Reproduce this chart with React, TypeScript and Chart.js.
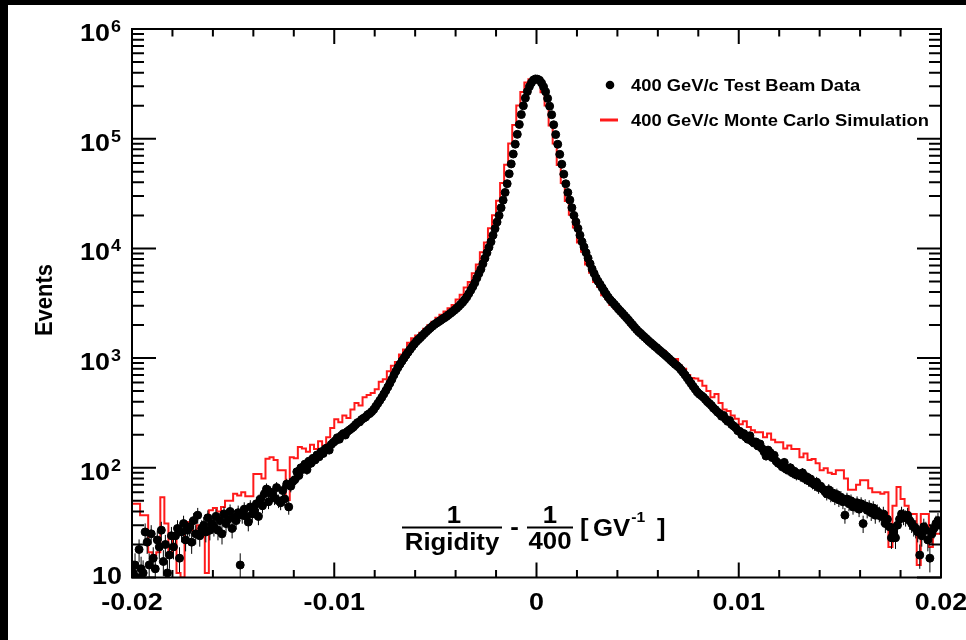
import React, { useEffect, useRef } from "react";
import { Chart, registerables } from "chart.js";

Chart.register(...registerables);

// ---------- data ----------
const X_MIN = -0.02;
const X_MAX = 0.02;
const DATA_BIN = 0.0001; // test beam histogram bin width
const MC_BIN = 0.0002; // Monte Carlo histogram bin width

const xMajorTicks = [-0.02, -0.01, 0, 0.01, 0.02];
const xTickLabels = ["-0.02", "-0.01", "0", "0.01", "0.02"];
const yDecadeExponents = [1, 2, 3, 4, 5, 6];

const legendData = "400 GeV/c Test Beam Data";
const legendMC = "400 GeV/c Monte Carlo Simulation";
const yTitle = "Events";

// 400 bins, -0.02 .. 0.02
const beamCounts = [
  11, 13, 10, 18, 12, 11, 26, 21, 13, 25, 15, 12, 22, 19, 27, 14, 20, 11, 16, 24,
  19, 24, 28, 15, 26, 31, 22, 27, 29, 21, 33, 25, 37, 24, 28, 30, 26, 35, 27, 31,
  29, 36, 27, 33, 25, 38, 31, 34, 40, 28, 35, 33, 39, 13, 37, 42, 36, 32, 44, 38,
  41, 47, 36, 52, 45, 58, 64, 49, 60, 57, 53, 66, 50, 48, 62, 52, 71, 44, 68, 75,
  78, 92, 85, 100, 97, 108, 96, 115, 110, 122, 118, 131, 126, 140, 135, 148, 152, 145, 163, 170,
  176, 188, 182, 197, 205, 199, 214, 221, 228, 236,
  247, 258, 262, 275, 283, 290, 305, 312, 325, 340,
  362, 385, 410, 438, 470, 505, 545, 590, 640, 700,
  760, 820, 880, 940, 1000, 1065, 1130, 1200, 1270, 1340,
  1410, 1470, 1530, 1600, 1670, 1740, 1810, 1880, 1950, 2020,
  2080, 2140, 2200, 2270, 2330, 2400, 2480, 2560, 2650, 2740,
  2840, 2960, 3090, 3230, 3400, 3600, 3860, 4150, 4480, 4850,
  5370, 5890, 6460, 7240, 8130, 9120, 10230, 11480, 13180, 15140,
  17380, 19950, 23440, 27540, 32360, 38900, 47860, 58880, 72440, 89130,
  109600, 134900, 166000, 199500, 234400, 269200, 298500, 323600, 342800, 350800,
  349000, 341000, 322000, 297000, 268000, 233000, 198000, 165500, 134000, 109000,
  89000, 72000, 58500, 47500, 38800, 32300, 27600, 23500, 20000, 17400,
  15200, 13200, 11500, 10300, 9150, 8150, 7250, 6480, 5900, 5380,
  5000, 4680, 4370, 4080, 3810, 3580, 3390, 3240, 3090, 2950,
  2800, 2680, 2560, 2440, 2330, 2220, 2110, 2010, 1910, 1820,
  1740, 1680, 1610, 1550, 1490, 1430, 1380, 1330, 1280, 1240,
  1190, 1150, 1110, 1070, 1030, 990, 950, 915, 880, 850,
  820, 780, 740, 700, 660, 620, 585, 550, 520, 490,
  470, 455, 440, 420, 400, 385, 370, 350, 338, 322,
  312, 295, 300, 278, 265, 270, 248, 240, 232, 218,
  215, 200, 205, 190, 182, 196, 175, 168, 172, 158,
  165, 150, 140, 128, 145, 138, 124, 130, 115, 110,
  108, 102, 112, 97, 95, 100, 90, 93, 86, 88,
  84, 90, 80, 83, 76, 79, 72, 70, 74, 66,
  68, 64, 61, 58, 63, 56, 59, 53, 57, 51,
  54, 49, 37, 52, 47, 50, 44, 46, 48, 42,
  47, 31, 45, 41, 44, 39, 43, 37, 40, 38,
  36, 38, 31, 34, 29, 23, 26, 23, 30, 34,
  38, 36, 35, 37, 33, 31, 29, 28, 26, 16,
  24, 29, 27, 22, 15, 25, 28, 31, 33, 30,
];

// 200 bins, -0.02 .. 0.02
const mcCounts = [
  8, 47, 47, 37, 37, 17, 16, 17, 54, 31,
  17, 24, 11, 10, 32, 30, 26, 30, 28, 11,
  41, 43, 40, 44, 50, 50, 58, 56, 60, 55,
  55, 88, 88, 80, 121, 125, 118, 95, 95, 51,
  125, 122, 155, 150, 140, 162, 148, 175, 160, 190,
  230, 277, 260, 300, 285, 340, 390, 370, 440, 460,
  480, 520, 610, 640, 760, 850, 920, 1080, 1200, 1380,
  1520, 1610, 1700, 1850, 1990, 2140, 2330, 2480, 2660, 2850,
  3050, 3420, 3780, 4400, 4950, 5950, 7150, 9200, 11300, 15300,
  20100, 27200, 39500, 58000, 90500, 133000, 201000, 266000, 326000, 348000,
  346000, 327000, 265000, 201000, 132000, 90500, 57500, 39500, 27000, 20300,
  15500, 11300, 9300, 7150, 6000, 4950, 4450, 3750, 3450, 3050,
  2850, 2640, 2380, 2250, 1960, 1890, 1660, 1580, 1430, 1350,
  1270, 1180, 1160, 1040, 960, 980, 850, 800, 700, 660,
  650, 620, 560, 500, 440, 470, 390, 340, 330, 300,
  280, 250, 265, 235, 220, 211, 211, 190, 205, 180,
  171, 171, 150, 160, 148, 148, 125, 135, 118, 120,
  110, 95, 99, 90, 88, 95, 95, 80, 63, 63,
  70, 77, 77, 65, 60, 60, 58, 60, 19, 45,
  67, 52, 45, 38, 38, 13, 38, 38, 19, 25,
];

// ---------- drawing helpers ----------
const FONT = '"Liberation Sans", Arial, Helvetica, sans-serif';
const SX = 1.12;

function txt(
  ctx: CanvasRenderingContext2D,
  s: string,
  x: number,
  y: number,
  size: number,
  align: CanvasTextAlign = "left",
  sx: number = SX,
  color: string = "#000"
): number {
  ctx.save();
  ctx.translate(x, y);
  ctx.scale(sx, 1);
  ctx.font = `bold ${size}px ${FONT}`;
  ctx.textAlign = align;
  ctx.textBaseline = "alphabetic";
  ctx.fillStyle = color;
  ctx.fillText(s, 0, 0);
  const w = ctx.measureText(s).width * sx;
  ctx.restore();
  return w;
}

const rootStylePlugin = {
  id: "rootStyle",
  beforeDatasetDraw(chart: any, args: any) {
    if (args.index !== 0) return;
    const ctx: CanvasRenderingContext2D = chart.ctx;
    const { left, right, top, bottom } = chart.chartArea;
    const xs = chart.scales.x;
    const ys = chart.scales.y;
    ctx.save();
    ctx.beginPath();
    ctx.rect(left, top, right - left, bottom - top);
    ctx.clip();
    ctx.strokeStyle = "#000";
    ctx.lineWidth = 1;
    ctx.beginPath();
    beamCounts.forEach((v, i) => {
      const x = xs.getPixelForValue(X_MIN + (i + 0.5) * DATA_BIN);
      const err = Math.sqrt(v);
      const lo = Math.max(v - err, 1);
      const y1 = ys.getPixelForValue(lo);
      const y2 = ys.getPixelForValue(v + err);
      ctx.moveTo(x, y1);
      ctx.lineTo(x, y2);
    });
    ctx.stroke();
    ctx.restore();
  },
  afterDraw(chart: any) {
    const ctx: CanvasRenderingContext2D = chart.ctx;
    const { left, right, top, bottom } = chart.chartArea;
    const xs = chart.scales.x;
    const ys = chart.scales.y;

    ctx.save();
    ctx.strokeStyle = "#000";
    ctx.lineWidth = 2;
    ctx.lineCap = "butt";

    // x ticks (inward, bottom and top)
    ctx.beginPath();
    for (let k = 0; k <= 20; k++) {
      const v = X_MIN + k * 0.002;
      const x = xs.getPixelForValue(v);
      const major = k % 5 === 0;
      const len = major ? 15 : 7.5;
      ctx.moveTo(x, bottom);
      ctx.lineTo(x, bottom - len);
      ctx.moveTo(x, top);
      ctx.lineTo(x, top + len);
    }
    // y ticks (inward, left and right)
    yDecadeExponents.forEach((n) => {
      const base = Math.pow(10, n);
      const y = ys.getPixelForValue(base);
      ctx.moveTo(left, y);
      ctx.lineTo(left + 24, y);
      ctx.moveTo(right, y);
      ctx.lineTo(right - 24, y);
      if (n < 6) {
        for (let m = 2; m <= 9; m++) {
          const ym = ys.getPixelForValue(m * base);
          ctx.moveTo(left, ym);
          ctx.lineTo(left + 12, ym);
          ctx.moveTo(right, ym);
          ctx.lineTo(right - 12, ym);
        }
      }
    });
    ctx.stroke();

    // frame
    ctx.strokeRect(left, top, right - left, bottom - top);
    ctx.restore();

    // x tick labels
    xMajorTicks.forEach((v, i) => {
      const x = xs.getPixelForValue(v);
      txt(ctx, xTickLabels[i], x, bottom + 32, 24, "center");
    });

    // y tick labels
    yDecadeExponents.forEach((n) => {
      const y = ys.getPixelForValue(Math.pow(10, n));
      if (n === 1) {
        txt(ctx, "10", left - 10, y + 6, 24, "right");
      } else {
        txt(ctx, "10", left - 22, y + 12, 24, "right");
        txt(ctx, String(n), left - 21, y + 3, 16, "left");
      }
    });

    // y title
    ctx.save();
    ctx.translate(37, 295);
    ctx.rotate(-Math.PI / 2);
    ctx.scale(1, SX);
    ctx.font = `bold 22px ${FONT}`;
    ctx.textAlign = "center";
    ctx.textBaseline = "middle";
    ctx.fillStyle = "#000";
    ctx.fillText(yTitle, 0, 0);
    ctx.restore();

    // x title formula (drawn inside the frame, as in the original)
    ctx.save();
    ctx.strokeStyle = "#000";
    ctx.lineWidth = 2;
    txt(ctx, "1", 446, 518, 23, "center");
    txt(ctx, "Rigidity", 444, 544.5, 23, "center");
    ctx.beginPath();
    ctx.moveTo(394, 522.5);
    ctx.lineTo(494, 522.5);
    ctx.moveTo(519, 522.5);
    ctx.lineTo(565, 522.5);
    ctx.stroke();
    txt(ctx, "-", 506.5, 530, 23, "center");
    txt(ctx, "1", 542, 518, 23, "center");
    txt(ctx, "400", 542, 544, 23, "center");
    txt(ctx, "[", 572, 530.5, 23, "left");
    const gvW = txt(ctx, "GV", 585, 530.5, 23, "left");
    const supW = txt(ctx, "-1", 585 + gvW + 1, 517, 14, "left");
    txt(ctx, "]", Math.max(649, 585 + gvW + supW + 5), 530.5, 23, "left");
    ctx.restore();

    // legend
    ctx.save();
    ctx.fillStyle = "#000";
    ctx.beginPath();
    ctx.arc(602, 80, 4.3, 0, Math.PI * 2);
    ctx.fill();
    ctx.strokeStyle = "#ff1a1a";
    ctx.lineWidth = 3;
    ctx.beginPath();
    ctx.moveTo(592, 115);
    ctx.lineTo(610, 115);
    ctx.stroke();
    ctx.restore();
    txt(ctx, legendData, 623, 86, 17, "left", 1.08);
    txt(ctx, legendMC, 623, 121, 17, "left", 1.08);
  },
};

export default function App() {
  const ref = useRef<HTMLCanvasElement>(null);

  useEffect(() => {
    document.body.style.margin = "0";
    const canvas = ref.current;
    if (!canvas) return;

    const beamPoints = beamCounts.map((v, i) => ({ x: X_MIN + (i + 0.5) * DATA_BIN, y: v }));
    const mcPoints = mcCounts.map((v, j) => ({ x: X_MIN + j * MC_BIN, y: v }));
    mcPoints.push({ x: X_MAX, y: mcCounts[mcCounts.length - 1] });

    const chart = new Chart(canvas, {
      type: "scatter",
      data: {
        datasets: [
          {
            type: "scatter",
            label: legendData,
            data: beamPoints,
            order: 0,
            pointRadius: 4,
            pointBorderWidth: 1,
            backgroundColor: "#000",
            borderColor: "#000",
            pointHoverRadius: 4,
          },
          {
            type: "line",
            label: legendMC,
            data: mcPoints,
            order: 1,
            stepped: "after",
            showLine: true,
            pointRadius: 0,
            borderColor: "#ff1a1a",
            borderWidth: 2,
            fill: false,
            tension: 0,
          },
        ],
      } as any,
      options: {
        responsive: false,
        devicePixelRatio: 1,
        animation: false,
        events: [],
        layout: { padding: { left: 124, right: 25, top: 24, bottom: 62.5 } },
        plugins: {
          legend: { display: false },
          tooltip: { enabled: false },
          title: { display: false },
        },
        scales: {
          x: { type: "linear", min: X_MIN, max: X_MAX, display: false },
          y: { type: "logarithmic", min: 10, max: 1000000, display: false },
        },
      } as any,
      plugins: [rootStylePlugin],
    });
    return () => chart.destroy();
  }, []);

  return (
    <div style={{ position: "relative", width: 966, height: 640, background: "#000", overflow: "hidden" }}>
      <div style={{ position: "absolute", left: 8, top: 5, width: 958, height: 635, background: "#fff" }}>
        <canvas ref={ref} width={958} height={635} style={{ display: "block", width: 958, height: 635 }} />
      </div>
    </div>
  );
}
